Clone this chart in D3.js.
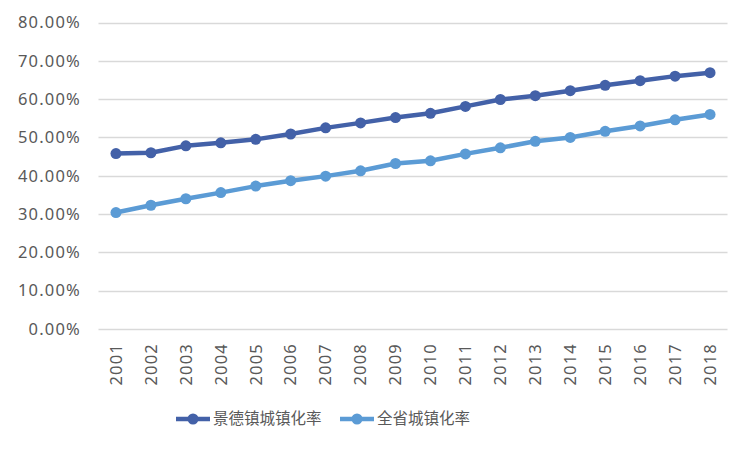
<!DOCTYPE html>
<html><head><meta charset="utf-8">
<script src="https://cdn.jsdelivr.net/npm/d3@7"></script>
<style>body{margin:0;background:#fff;}svg{display:block;}</style>
</head><body>
<svg id="c" width="750" height="450"></svg>
<script>
const years = ["2001","2002","2003","2004","2005","2006","2007","2008","2009","2010","2011","2012","2013","2014","2015","2016","2017","2018"];
const jdzRate = [45.8,46.0,47.8,48.6,49.5,50.9,52.5,53.8,55.2,56.3,58.1,59.9,60.9,62.2,63.6,64.8,66.0,66.9];
const provRate = [30.4,32.3,34.0,35.6,37.3,38.7,39.9,41.3,43.2,43.9,45.7,47.3,49.0,50.0,51.6,53.0,54.6,56.0];
const seriesNames = ["景德镇城镇化率","全省城镇化率"];
const yTicks = [0,10,20,30,40,50,60,70,80];

const colors = ["#4361A8","#5B9BD5"];
const numFont = "'Noto Sans',sans-serif";
const cjkFont = "'Noto Sans CJK SC','Noto Sans',sans-serif";
const svg = d3.select("#c");
const x = d3.scaleBand().domain(years).range([98.5,727.5]);
const y = d3.scaleLinear().domain([0,80]).range([329,22.5]);

// gridlines
svg.append("g").selectAll("line").data(yTicks).join("line")
  .attr("x1",98.5).attr("x2",727.5)
  .attr("y1",d=>Math.round(y(d))+0.5).attr("y2",d=>Math.round(y(d))+0.5)
  .attr("stroke","#d9d9d9").attr("stroke-width",1.3);

// y labels
svg.append("g").selectAll("text").data(yTicks).join("text")
  .attr("x",81).attr("y",d=>y(d)).attr("dy","0.35em")
  .attr("text-anchor","end").attr("font-family",numFont).attr("font-size",16.5)
  .attr("letter-spacing","1.2px")
  .attr("fill","#595959").text(d=>d.toFixed(2)+"%");

// x labels
svg.append("g").selectAll("text").data(years).join("text")
  .attr("transform",d=>`translate(${x(d)+x.bandwidth()/2},343) rotate(-90)`)
  .attr("dy","0.35em").attr("text-anchor","end")
  .attr("letter-spacing","1.2px")
  .attr("font-family",numFont).attr("font-size",16.5).attr("fill","#595959").text(d=>d);

const data = [jdzRate, provRate];
const line = d3.line().x((d,i)=>x(years[i])+x.bandwidth()/2).y(d=>y(d));
data.forEach((s,k)=>{
  const g = svg.append("g");
  g.append("path").datum(s).attr("d",line).attr("fill","none")
    .attr("stroke",colors[k]).attr("stroke-width",4.5).attr("stroke-linejoin","round");
  g.selectAll("circle").data(s).join("circle")
    .attr("cx",(d,i)=>x(years[i])+x.bandwidth()/2).attr("cy",d=>y(d)).attr("r",5.5)
    .attr("fill",colors[k]);
});

// legend
const legX = [176,340];
seriesNames.forEach((n,k)=>{
  const g = svg.append("g").attr("transform",`translate(${legX[k]},419)`);
  g.append("line").attr("x1",0).attr("x2",34).attr("y1",0).attr("y2",0)
    .attr("stroke",colors[k]).attr("stroke-width",4.5);
  g.append("circle").attr("cx",17).attr("cy",0).attr("r",5.5).attr("fill",colors[k]);
  g.append("text").attr("x",37).attr("y",0).attr("dy","0.35em")
    .attr("font-family",cjkFont).attr("font-size",15.5).attr("fill","#595959").text(n);
});
</script>
</body></html>
